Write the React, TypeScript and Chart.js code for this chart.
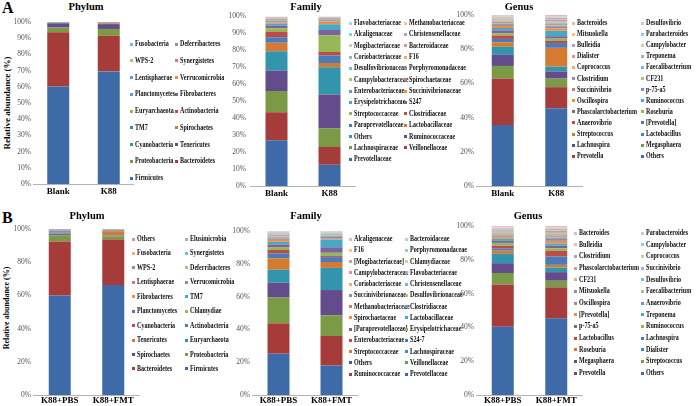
import React, { useEffect, useRef } from "react";
import { Chart, registerables } from "chart.js";
Chart.register(...registerables);

const FONT = '"Liberation Serif", "Times New Roman", serif';

// ---------- Panel A : Phylum ----------
const phylumA_categories = ["Blank", "K88"];
const phylumA_series = [
  "Firmicutes", "Bacteroidetes", "Proteobacteria", "Tenericutes", "Cyanobacteria", "Spirochaetes",
  "TM7", "Actinobacteria", "Euryarchaeota", "Fibrobacteres", "Planctomycetes", "Verrucomicrobia",
  "Lentisphaerae", "Synergistetes", "WPS-2", "Deferribacteres", "Fusobacteria",
];
const phylumA_blank = [60.2, 33.5, 2.9, 2.6, 0.4, 0.1, 0.05, 0.05, 0.05, 0.03, 0.03, 0.02, 0.02, 0.02, 0.01, 0.01, 0.01];
const phylumA_k88 = [69.5, 22.0, 4.2, 3.0, 0.3, 0.7, 0.1, 0.08, 0.05, 0.03, 0.02, 0.02, 0.02, 0.01, 0.01, 0.01, 0.01];

// ---------- Panel A : Family ----------
const familyA_categories = ["Blank", "K88"];
const familyA_series = [
  "Prevotellaceae", "Veillonellaceae", "Lachnospiraceae", "Ruminococcaceae", "Others", "Lactobacillaceae",
  "Paraprevotellaceae", "Clostridiaceae", "Streptococcaceae", "S247", "Erysipelotrichaceae", "Succinivibrionaceae",
  "Enterobacteriaceae", "Spirochaetaceae", "Campylobacteraceae", "Porphyromonadaceae", "Desulfovibrionaceae", "F16",
  "Coriobacteriaceae", "Bacteroidaceae", "Mogibacteriaceae", "Christensenellaceae", "Alcaligenaceae",
  "Methanobacteriaceae", "Flavobacteriaceae",
];
const familyA_blank = [27, 16.5, 12.5, 12, 11.5, 5, 3.3, 3, 2.2, 1.5, 1.3, 0.8, 0.6, 0.5, 0.3, 0.3, 0.3, 0.6, 0.2, 0.2, 0.1, 0.1, 0.05, 0.1, 0.05];
const familyA_k88 = [12.5, 10.5, 11, 20, 16, 2.5, 4.5, 2, 10, 3, 3.5, 1.5, 0.8, 0.4, 0.3, 0.3, 0.3, 0.2, 0.2, 0.1, 0.1, 0.1, 0.1, 0.05, 0.05];

// ---------- Panel A : Genus ----------
const genusA_categories = ["Blank", "K88"];
const genusA_series = [
  "Others", "Prevotella", "Megasphaera", "Lachnospira", "Lactobacillus", "Streptococcus",
  "[Prevotella]", "Anaerovibrio", "Roseburia", "Phascolarctobacterium", "Ruminococcus", "Oscillospira",
  "p-75-a5", "Succinivibrio", "CF231", "Clostridium", "Faecalibacterium", "Coprococcus",
  "Treponema", "Dialister", "Campylobacter", "Bulleidia", "Parabacteroides", "Mitsuokella",
  "Desulfovibrio", "Bacteroides",
];
const genusA_blank = [35.6, 27.3, 7.3, 6.5, 4.7, 2.6, 2.0, 2.0, 1.4, 1.6, 1.4, 1.2, 0.6, 0.6, 0.5, 0.5, 0.5, 0.6, 0.4, 0.5, 0.3, 0.4, 0.3, 0.5, 0.3, 0.4];
const genusA_k88 = [45.5, 12.3, 5, 4.2, 2.8, 11, 2.8, 1.2, 1.4, 1.4, 3.2, 1.4, 0.8, 0.5, 0.5, 0.6, 0.6, 0.5, 0.5, 1.2, 0.3, 0.5, 0.3, 0.4, 0.3, 0.8];

// ---------- Panel B : Phylum ----------
const phylumB_categories = ["K88+PBS", "K88+FMT"];
const phylumB_series = [
  "Firmicutes", "Bacteroidetes", "Proteobacteria", "Spirochaetes", "Euryarchaeota", "Tenericutes",
  "Actinobacteria", "Cyanobacteria", "Chlamydiae", "Planctomycetes", "TM7", "Fibrobacteres",
  "Verrucomicrobia", "Lentisphaerae", "Deferribacteres", "WPS-2", "Synergistetes", "Fusobacteria",
  "Elusimicrobia", "Others",
];
const phylumB_pbs = [60, 32.5, 3.6, 0.8, 0.5, 0.4, 0.8, 0.3, 0.1, 0.1, 0.1, 0.05, 0.1, 0.05, 0.05, 0.4, 0.05, 0.05, 0.02, 0.03];
const phylumB_fmt = [66.3, 27.3, 2, 0.3, 0.3, 2.5, 0.3, 0.2, 0.1, 0.05, 0.3, 0.05, 0.1, 0.05, 0.05, 0.05, 0.2, 0.05, 0.05, 0.05];

// ---------- Panel B : Family ----------
const familyB_categories = ["K88+PBS", "K88+FMT"];
const familyB_series = [
  "Prevotellaceae", "Ruminococcaceae", "Veillonellaceae", "Others", "Lachnospiraceae", "Streptococcaceae",
  "S24-7", "Enterobacteriaceae", "Erysipelotrichaceae", "[Paraprevotellaceae]", "Lactobacillaceae", "Spirochaetaceae",
  "Clostridiaceae", "Methanobacteriaceae", "Desulfovibrionaceae", "Succinivibrionaceae", "Christensenellaceae", "Coriobacteriaceae",
  "Flavobacteriaceae", "Campylobacteraceae", "Chlamydiaceae", "[Mogibacteriaceae]", "Porphyromonadaceae", "F16",
  "Bacteroidaceae", "Alcaligenaceae",
];
const familyB_pbs = [25.2, 18.5, 15.7, 9, 8, 7, 3, 2, 1.8, 1.6, 1.6, 1.2, 0.8, 0.7, 0.6, 0.5, 0.5, 0.4, 0.3, 0.2, 0.2, 0.2, 0.2, 0.3, 0.2, 0.3];
const familyB_fmt = [18, 18, 12.5, 15.5, 13.5, 3.6, 3, 0.6, 2, 3.4, 4.6, 0.6, 1.2, 0.4, 0.5, 0.3, 0.3, 0.3, 0.3, 0.2, 0.2, 0.2, 0.2, 0.1, 0.3, 0.2];

// ---------- Panel B : Genus ----------
const genusB_categories = ["K88+PBS", "K88+FMT"];
const genusB_series = [
  "Others", "Prevotella", "Streptococcus", "Megasphaera", "Dialister", "Roseburia",
  "Lachnospira", "Lactobacillus", "Ruminococcus", "p-75-a5", "Treponema", "[Prevotella]",
  "Anaerovibrio", "Oscillospira", "Faecalibacterium", "Mitsuokella", "Desulfovibrio", "CF231",
  "Succinivibrio", "Phascolarctobacterium", "Coprococcus", "Clostridium", "Campylobacter", "Bulleidia",
  "Parabacteroides", "Bacteroides",
];
const genusB_pbs = [40.4, 25, 6.8, 5.8, 5.5, 1.9, 1.4, 1.6, 1.6, 1.2, 1.2, 1, 0.5, 0.6, 0.5, 0.5, 0.4, 0.4, 0.5, 0.6, 0.4, 0.5, 0.3, 0.4, 0.3, 0.6];
const genusB_fmt = [45.4, 18.3, 3.9, 5.1, 2.7, 1.6, 4.9, 3.3, 1.6, 1.6, 1.2, 1.6, 1.2, 0.6, 0.6, 0.5, 0.5, 0.8, 0.6, 1.2, 0.5, 0.5, 0.3, 0.5, 0.3, 0.7];

const PALETTE = [
  "#3E6AA7", "#A63C3A", "#7B9A46", "#644C8C", "#3394AD", "#D57B31",
  "#4A7CBA", "#BD4C49", "#97B656", "#7D61A0", "#48A9C4", "#F0903F",
  "#7394C8", "#CF7B78", "#ABC67A", "#9B86B8", "#6FC0D6", "#F5AA6E",
  "#95B3D7", "#D99694", "#C3D69B", "#B3A2C7", "#93CDDD", "#FAC090",
  "#B9CDE5", "#E6B9B8", "#D7E4BD", "#CCC1DA", "#B7DEE8", "#FCD5B5",
];

type Layout = {
  plotLeft: number; plotRight: number; plotTop: number; plotBottom: number;
  step: number; tickPad: number; labelPad: number;
  legX1: number; legX2: number; legTop: number; legGap: number;
  titleX: number; titleY: number;
};

type PanelProps = {
  title: string;
  categories: string[];
  series: string[];
  values: number[][];
  layout: Layout;
};

const AXIS_W = 40;
const PAD_TOP = 8;
const X_H = 16;
const BAR_W = 22;

function StackedPanel({ title, categories, series, values, layout }: PanelProps) {
  const ref = useRef<HTMLCanvasElement | null>(null);
  const L = layout;
  const cLeft = L.plotLeft - AXIS_W;
  const cTop = L.plotTop - PAD_TOP;
  const cW = L.plotRight - cLeft;
  const cH = L.plotBottom + X_H - cTop;
  const catW = (L.plotRight - L.plotLeft) / categories.length;

  useEffect(() => {
    if (!ref.current) return;
    const datasets = series.map((name, i) => ({
      label: name,
      data: values.map((v) => v[i]),
      backgroundColor: PALETTE[i % PALETTE.length],
      borderWidth: 0,
      categoryPercentage: 1,
      barPercentage: BAR_W / catW,
    }));
    const chart = new Chart(ref.current, {
      type: "bar",
      data: { labels: categories, datasets },
      options: {
        responsive: false,
        animation: false,
        devicePixelRatio: 1,
        layout: { padding: { top: PAD_TOP, left: 0, right: 0, bottom: 0 } },
        plugins: { legend: { display: false }, tooltip: { enabled: false } },
        scales: {
          x: {
            stacked: true,
            grid: { display: false, drawTicks: false },
            border: { display: true, color: "#b4b4b4", width: 1 },
            ticks: {
              font: { family: FONT, size: 9, weight: "bold" },
              color: "#000",
              padding: L.labelPad,
              maxRotation: 0,
              autoSkip: false,
            },
            afterFit: (s: any) => { s.height = X_H; },
          },
          y: {
            stacked: true,
            min: 0,
            max: 100,
            grid: { display: false, drawTicks: false },
            border: { display: false },
            ticks: {
              stepSize: L.step,
              callback: (v: any) => v + "%",
              font: { family: FONT, size: 7.5 },
              color: "#555",
              padding: L.tickPad,
            },
            afterFit: (s: any) => { s.width = AXIS_W; },
          },
        },
      } as any,
    });
    return () => chart.destroy();
  }, []);

  const legendItems = series.map((name, i) => ({ name, color: PALETTE[i % PALETTE.length] })).reverse();

  return (
    <>
      <canvas
        ref={ref}
        width={cW}
        height={cH}
        style={{ position: "absolute", left: cLeft, top: cTop, width: cW, height: cH }}
      />
      <div
        style={{
          position: "absolute", left: L.titleX - 50, width: 100, top: L.titleY - 6,
          textAlign: "center", font: `bold 10.5px ${FONT}`, lineHeight: "12px", color: "#000",
        }}
      >
        {title}
      </div>
      {legendItems.map((it, k) => {
        const row = Math.floor(k / 2);
        const col = k % 2;
        const x = col === 0 ? L.legX1 : L.legX2;
        const y = L.legTop + row * L.legGap;
        return (
          <React.Fragment key={k}>
            <div style={{ position: "absolute", left: x, top: y - 1.5, width: 3, height: 3, background: it.color }} />
            <div
              style={{
                position: "absolute", left: x + 4.5, top: y - 5, height: 10, lineHeight: "10px",
                font: `bold 8px ${FONT}`, color: "#111", whiteSpace: "nowrap",
                transform: "scaleX(0.76)", transformOrigin: "left center",
              }}
            >
              {it.name}
            </div>
          </React.Fragment>
        );
      })}
    </>
  );
}

function YTitle({ cx, cy, size, text }: { cx: number; cy: number; size: number; text: string }) {
  return (
    <div
      style={{
        position: "absolute", left: cx - 70, top: cy - 6, width: 140, height: 12,
        lineHeight: "12px", textAlign: "center", font: `bold ${size}px ${FONT}`, color: "#000",
        transform: "rotate(-90deg)", transformOrigin: "center center", whiteSpace: "nowrap",
      }}
    >
      {text}
    </div>
  );
}

export default function App() {
  return (
    <div
      style={{
        position: "absolute", left: 0, top: 0, width: 696, height: 406,
        background: "#fff", overflow: "hidden",
      }}
    >
      <div style={{ position: "absolute", left: 2, top: 0, font: `bold 16px ${FONT}`, lineHeight: "16px" }}>A</div>
      <div style={{ position: "absolute", left: 2, top: 210, font: `bold 16px ${FONT}`, lineHeight: "16px" }}>B</div>
      <YTitle cx={8} cy={103} size={9} text="Relative abundance (%)" />
      <YTitle cx={8} cy={308} size={8} text="Relative abundance (%)" />

      <StackedPanel
        title="Phylum"
        categories={phylumA_categories}
        series={phylumA_series}
        values={[phylumA_blank, phylumA_k88]}
        layout={{ plotLeft: 33, plotRight: 134, plotTop: 22, plotBottom: 184, step: 10, tickPad: 2, labelPad: 2,
          legX1: 130, legX2: 175, legTop: 44, legGap: 16.75, titleX: 86, titleY: 7 }}
      />
      <StackedPanel
        title="Family"
        categories={familyA_categories}
        series={familyA_series}
        values={[familyA_blank, familyA_k88]}
        layout={{ plotLeft: 250, plotRight: 356, plotTop: 16, plotBottom: 186, step: 10, tickPad: 4, labelPad: 2,
          legX1: 349, legX2: 404, legTop: 23, legGap: 11.35, titleX: 306, titleY: 7 }}
      />
      <StackedPanel
        title="Genus"
        categories={genusA_categories}
        series={genusA_series}
        values={[genusA_blank, genusA_k88]}
        layout={{ plotLeft: 476, plotRight: 583, plotTop: 15, plotBottom: 186, step: 20, tickPad: 2, labelPad: 2,
          legX1: 572, legX2: 641, legTop: 23, legGap: 11.1, titleX: 519, titleY: 7 }}
      />
      <StackedPanel
        title="Phylum"
        categories={phylumB_categories}
        series={phylumB_series}
        values={[phylumB_pbs, phylumB_fmt]}
        layout={{ plotLeft: 33, plotRight: 140, plotTop: 229, plotBottom: 395, step: 20, tickPad: 2, labelPad: 0,
          legX1: 132, legX2: 185, legTop: 239, legGap: 14.44, titleX: 87, titleY: 216 }}
      />
      <StackedPanel
        title="Family"
        categories={familyB_categories}
        series={familyB_series}
        values={[familyB_pbs, familyB_fmt]}
        layout={{ plotLeft: 252, plotRight: 358, plotTop: 231, plotBottom: 395, step: 20, tickPad: 2, labelPad: 0,
          legX1: 349, legX2: 405, legTop: 239, legGap: 11.25, titleX: 306, titleY: 216 }}
      />
      <StackedPanel
        title="Genus"
        categories={genusB_categories}
        series={genusB_series}
        values={[genusB_pbs, genusB_fmt]}
        layout={{ plotLeft: 476, plotRight: 583, plotTop: 226, plotBottom: 395, step: 20, tickPad: 2, labelPad: 0,
          legX1: 574, legX2: 641, legTop: 233, legGap: 11.67, titleX: 528, titleY: 216 }}
      />
    </div>
  );
}
